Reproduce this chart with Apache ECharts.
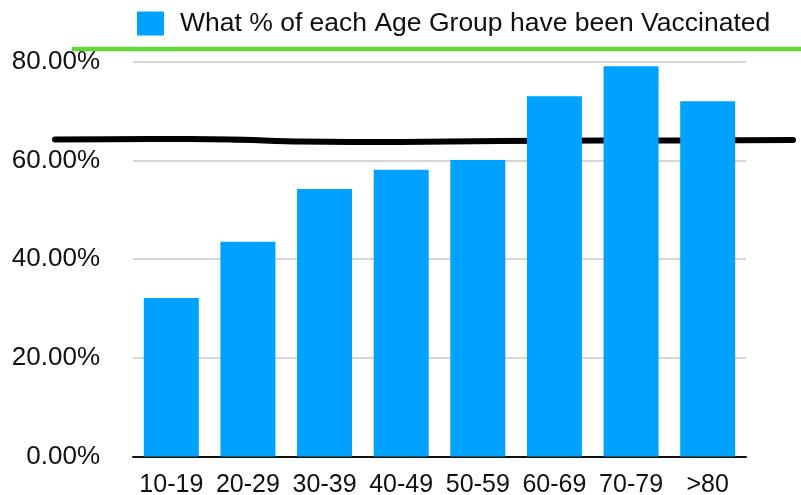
<!DOCTYPE html>
<html>
<head>
<meta charset="utf-8">
<script src="https://cdn.jsdelivr.net/npm/echarts@6/dist/echarts.min.js"></script>
<style>
html,body{margin:0;padding:0;background:#fff;}
#chart{width:801px;height:495px;}
</style>
</head>
<body>
<div id="chart"></div>
<script>
const categories = ['10-19','20-29','30-39','40-49','50-59','60-69','70-79','>80'];
const seriesName = 'What % of each Age Group have been Vaccinated';
const vaccinated = [32.1, 43.5, 54.2, 58.1, 60.1, 73.0, 79.1, 72.0];
const yTicks = [0, 20, 40, 60, 80];

const FONT = '"Liberation Sans", Arial, Helvetica, sans-serif';
const chart = echarts.init(document.getElementById('chart'), null, {renderer:'canvas'});
chart.setOption({
  animation: false,
  backgroundColor: '#ffffff',
  textStyle: {fontFamily: FONT},
  legend: {
    left: 137, top: 10, padding: 0,
    itemWidth: 27, itemHeight: 24,
    icon: 'rect',
    textStyle: {fontSize: 26.5, color: '#111', fontFamily: FONT, padding: [0,0,0,11]},
    data: [seriesName]
  },
  grid: {left: 133, right: 55, top: 61.7, bottom: 38.5, containLabel: false, outerBoundsMode: 'none'},
  xAxis: {
    type: 'category',
    data: categories,
    axisLine: {show: true, lineStyle: {color: '#111', width: 2}},
    axisTick: {show: false},
    axisLabel: {fontSize: 25, color: '#111', margin: 16, fontFamily: FONT, interval: 0}
  },
  yAxis: {
    type: 'value',
    min: yTicks[0], max: yTicks[yTicks.length-1], interval: 20,
    axisLine: {show: false},
    axisTick: {show: false},
    splitLine: {lineStyle: {color: '#c8c8c8', width: 1.5}},
    axisLabel: {fontSize: 26, color: '#111', margin: 33, fontFamily: FONT,
      formatter: v => v.toFixed(2) + '%'}
  },
  series: [{
    name: seriesName,
    type: 'bar',
    data: vaccinated,
    barWidth: 55,
    itemStyle: {color: '#00a2ff'},
    z: 5
  }],
  graphic: [
    {
      type: 'line', z: 1,
      shape: {x1: 72, y1: 49, x2: 801, y2: 49},
      style: {stroke: '#64d53c', lineWidth: 4.5}
    },
    {
      type: 'polyline', z: 1,
      shape: {points: [[55,139.5],[150,139],[230,139.5],[300,141.5],[400,142],[500,141],[600,140.5],[700,140.5],[793,140]], smooth: 0.3},
      style: {stroke: '#000', lineWidth: 6, lineCap: 'round', fill: null}
    }
  ]
});
</script>
</body>
</html>
